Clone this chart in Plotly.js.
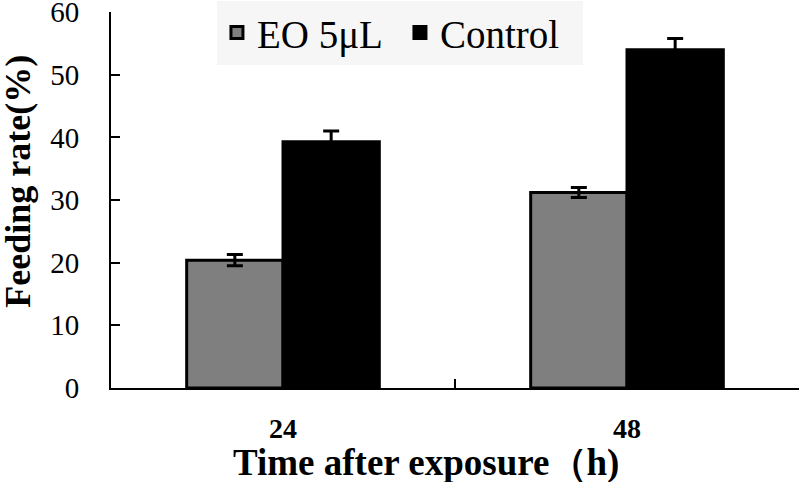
<!DOCTYPE html>
<html><head><meta charset="utf-8">
<script src="https://cdn.plot.ly/plotly-3.0.1.min.js"></script>
<style>body{margin:0;background:#fff}#c{width:800px;height:482px}</style>
</head><body><div id="c"></div>
<script>
const categories = ['24', '48'];
const eoValues = [20.4, 31.2];
const eoErrors = [0.9, 0.8];
const controlValues = [39.3, 54.0];
const controlErrors = [1.7, 1.8];
const seriesNames = ['EO 5μL', 'Control'];
const yTickVals = [0, 10, 20, 30, 40, 50, 60];
const xTitle = 'Time after exposure（h)';
const yTitle = 'Feeding rate(%)';

const font = 'Liberation Serif';
const traces = [
  {type:'bar', name:seriesNames[0], x:categories, y:eoValues,
   marker:{color:'#7f7f7f', line:{color:'#000', width:3}},
   error_y:{type:'data', array:eoErrors, visible:true, color:'#000', thickness:3, width:8}},
  {type:'bar', name:seriesNames[1], x:categories, y:controlValues,
   marker:{color:'#000', line:{color:'#000', width:3}},
   error_y:{type:'data', array:controlErrors, visible:true, color:'#000', thickness:3, width:8}}
];
const layout = {
  width:800, height:482,
  margin:{l:111, r:1, t:12, b:94},
  paper_bgcolor:'#fff', plot_bgcolor:'#fff',
  barmode:'group', bargap:0.44, bargroupgap:0,
  font:{family:font, color:'#000'},
  showlegend:true,
  legend:{orientation:'h', x:0.154, xanchor:'left', y:1.03, yanchor:'top',
    bgcolor:'#f6f6f6', font:{size:39, family:font, color:'#000'}, entrywidth:138,
    itemwidth:30, traceorder:'normal'},
  xaxis:{type:'category', showline:true, linecolor:'#000', linewidth:2,
    ticks:'inside', tickson:'boundaries', ticklen:9, tickwidth:2, tickcolor:'#000',
    showgrid:false, zeroline:false, ticklabelstandoff:14,
    tickfont:{size:28, family:font, color:'#000', weight:'bold'}},
  yaxis:{range:[0,60.01], tickvals:yTickVals, showline:true, linecolor:'#000', linewidth:2,
    ticks:'inside', ticklen:9, tickwidth:2, tickcolor:'#000', ticklabeloverflow:'allow',
    showgrid:false, zeroline:false, ticklabelstandoff:24,
    tickfont:{size:29, family:font, color:'#000'}},
  annotations:[
    {text:'<b>'+xTitle+'</b>', xref:'paper', yref:'paper', x:0.458, y:-0.1995,
     xanchor:'center', yanchor:'middle', showarrow:false,
     font:{size:37, family:font, color:'#000'}},
    {text:'<b>'+yTitle+'</b>', xref:'paper', yref:'paper', x:-0.1355, y:0.5505,
     xanchor:'center', yanchor:'middle', textangle:-90, showarrow:false,
     font:{size:36, family:font, color:'#000'}}
  ]
};
Plotly.newPlot('c', traces, layout, {displayModeBar:false, staticPlot:true});
</script></body></html>
